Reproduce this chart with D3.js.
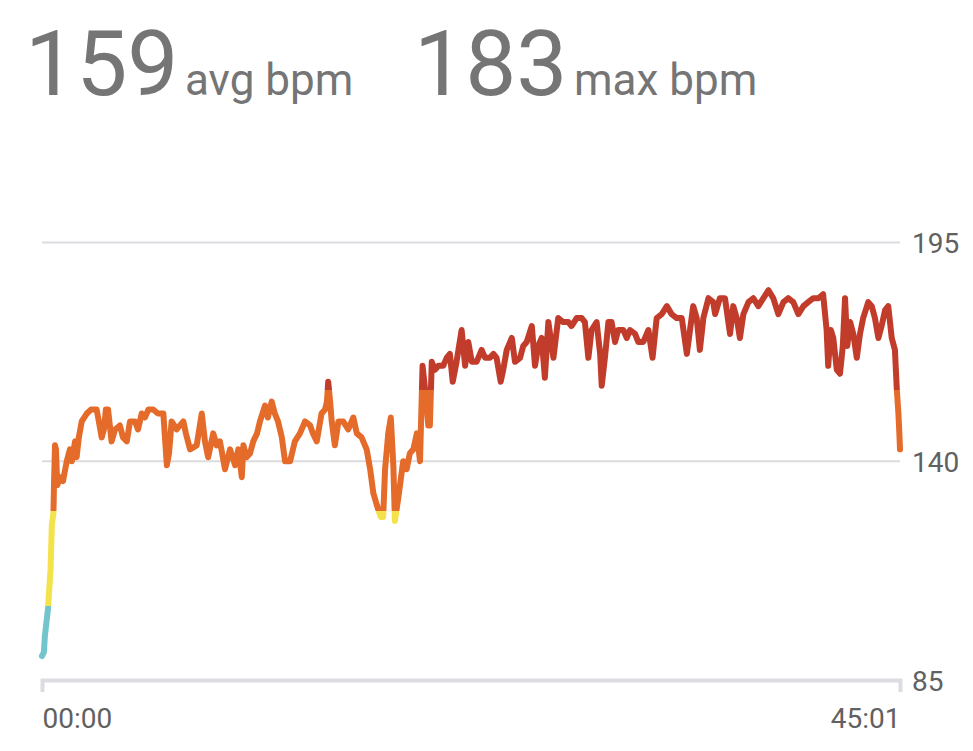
<!DOCTYPE html>
<html>
<head>
<meta charset="utf-8">
<script src="https://cdn.jsdelivr.net/npm/d3@7"></script>
<style>
  html, body { margin: 0; padding: 0; background: #ffffff; }
  svg { display: block; font-family: Roboto, "Noto Sans", sans-serif; }
</style>
</head>
<body>
<svg id="chart" width="973" height="751"></svg>
<script>
// ---- data (elapsed seconds, heart rate bpm) ----
const elapsed = [0,6,9,19,27,31,36,38,41,44,48,57,66,78,88,94,104,109,116,125,141,154,172,179,188,195,201,208,219,230,245,255,267,277,293,302,314,324,335,350,365,382,393,400,408,424,434,445,453,466,487,503,513,523,539,550,560,567,576,592,608,618,629,634,644,655,665,677,686,702,711,723,733,743,755,765,781,796,812,828,844,853,865,880,891,897,901,907,912,922,933,948,964,980,991,1006,1022,1033,1043,1054,1066,1074,1080,1090,1098,1106,1111,1122,1137,1148,1158,1169,1180,1190,1198,1206,1216,1221,1227,1237,1248,1263,1274,1284,1293,1305,1321,1332,1342,1353,1368,1384,1395,1410,1421,1431,1444,1452,1463,1479,1489,1505,1515,1526,1542,1552,1562,1573,1583,1594,1610,1625,1641,1657,1667,1683,1699,1709,1720,1730,1746,1757,1762,1772,1783,1793,1804,1814,1830,1841,1851,1867,1877,1893,1909,1922,1935,1951,1967,1982,1998,2014,2030,2040,2050,2061,2071,2082,2098,2113,2119,2134,2150,2166,2176,2187,2197,2208,2224,2239,2255,2271,2287,2302,2318,2334,2349,2365,2381,2397,2412,2428,2444,2459,2470,2475,2483,2491,2502,2512,2521,2528,2535,2544,2554,2565,2575,2585,2601,2612,2622,2633,2643,2654,2664,2675,2685,2691,2696,2699,2701];
const bpm = [91,92,96,103,113,124,127,135,144,143,134,136,135,140,143,140,145,141,146,150,152,153,153,150,146,148,153,153,145,148,149,146,145,150,150,148,152,151,153,153,152,152,139,142,150,148,149,150,147,143,144,152,145,141,147,144,145,142,138,143,139,143,136,144,141,142,145,147,150,154,151,155,152,150,146,140,140,145,147,150,149,147,145,152,153,155,160,155,150,144,150,150,148,151,147,146,143,138,132,129,126,126,138,147,151,139,125,131,140,138,142,143,147,140,164,158,149,149,165,163,164,164,166,167,160,165,173,164,170,165,165,168,166,166,167,166,160,163,168,171,165,166,169,170,174,164,169,171,161,175,166,176,175,175,174,176,176,175,166,173,175,167,159,166,175,175,170,173,173,171,173,172,170,170,173,166,176,177,179,177,176,176,167,173,179,176,168,176,181,180,177,181,181,172,179,176,171,177,180,181,179,181,183,181,177,180,181,180,177,179,180,181,181,182,173,164,173,171,163,162,169,181,169,175,172,166,172,176,180,179,176,171,174,178,179,171,168,158,152,147,143];
const yTicks = [85, 140, 195];
const xTickLabels = ["00:00", "45:01"];
const totalSeconds = 2701;
const zoneBreaks = [103.5, 127.5, 158];           // zone boundaries (bpm)
const zoneColors = ["#72c5cc", "#f4e24b", "#e46b2a", "#c23c2c"];
const summaryValues = [159, 183];
const summaryUnits = ["avg bpm", "max bpm"];

// ---- layout ----
const svg = d3.select("#chart");
const x = d3.scaleLinear().domain([0, totalSeconds]).range([42, 900]);
const y = d3.scaleLinear().domain([85, 195]).range([680, 242.5]);

// header
const headX = [[25, 185], [414, 574]];
summaryValues.forEach((v, i) => {
  const t = svg.append("text").attr("y", 95).attr("fill", "#757575");
  t.append("tspan").attr("x", headX[i][0]).attr("font-size", 91).text(v);
  t.append("tspan").attr("x", headX[i][1]).attr("font-size", 44).text(summaryUnits[i]);
});

// gridlines (except baseline)
svg.append("g").selectAll("line")
  .data(yTicks.filter(d => d !== 85))
  .join("line")
  .attr("x1", 42).attr("x2", 900)
  .attr("y1", d => y(d)).attr("y2", d => y(d))
  .attr("stroke", "#dcdce0").attr("stroke-width", 2);

// y axis labels on right
const yAxis = svg.append("g")
  .attr("transform", "translate(900,0)")
  .call(d3.axisRight(y).tickValues(yTicks).tickSize(0).tickPadding(12));
yAxis.select(".domain").remove();
yAxis.selectAll("text").attr("font-size", 28).attr("font-family", "Roboto, sans-serif")
  .attr("fill", "#616161").attr("dy", "0.36em");

// bottom axis (bracket shape via outer ticks)
const xAxis = svg.append("g")
  .attr("transform", "translate(0,680)")
  .call(d3.axisBottom(x).tickValues([0, totalSeconds])
    .tickFormat((d, i) => xTickLabels[i])
    .tickSizeInner(0).tickSizeOuter(12).tickPadding(28));
xAxis.select(".domain").attr("stroke", "#dcdde2").attr("stroke-width", 4).attr("fill", "none");
xAxis.selectAll(".tick line").remove();
xAxis.selectAll("text").attr("font-size", 28).attr("font-family", "Roboto, sans-serif")
  .attr("fill", "#616161")
  .attr("text-anchor", (d, i) => i === 0 ? "start" : "end")
  .attr("dy", "0.71em");

// zone gradient
const defs = svg.append("defs");
const grad = defs.append("linearGradient")
  .attr("id", "zones").attr("gradientUnits", "userSpaceOnUse")
  .attr("x1", 0).attr("x2", 0).attr("y1", y(85)).attr("y2", y(195));
const frac = b => (b - 85) / (195 - 85);
const stops = [];
zoneColors.forEach((c, i) => {
  const lo = i === 0 ? 0 : frac(zoneBreaks[i - 1]);
  const hi = i === zoneColors.length - 1 ? 1 : frac(zoneBreaks[i]);
  stops.push({o: lo, c}); stops.push({o: hi, c});
});
grad.selectAll("stop").data(stops).join("stop")
  .attr("offset", d => d.o).attr("stop-color", d => d.c);

// line
const pts = elapsed.map((t, i) => [t, bpm[i]]);
const line = d3.line().x(d => x(d[0])).y(d => y(d[1]));
svg.append("path")
  .datum(pts)
  .attr("d", line)
  .attr("fill", "none")
  .attr("stroke", "url(#zones)")
  .attr("stroke-width", 6)
  .attr("stroke-linejoin", "round")
  .attr("stroke-linecap", "round");
</script>
</body>
</html>
